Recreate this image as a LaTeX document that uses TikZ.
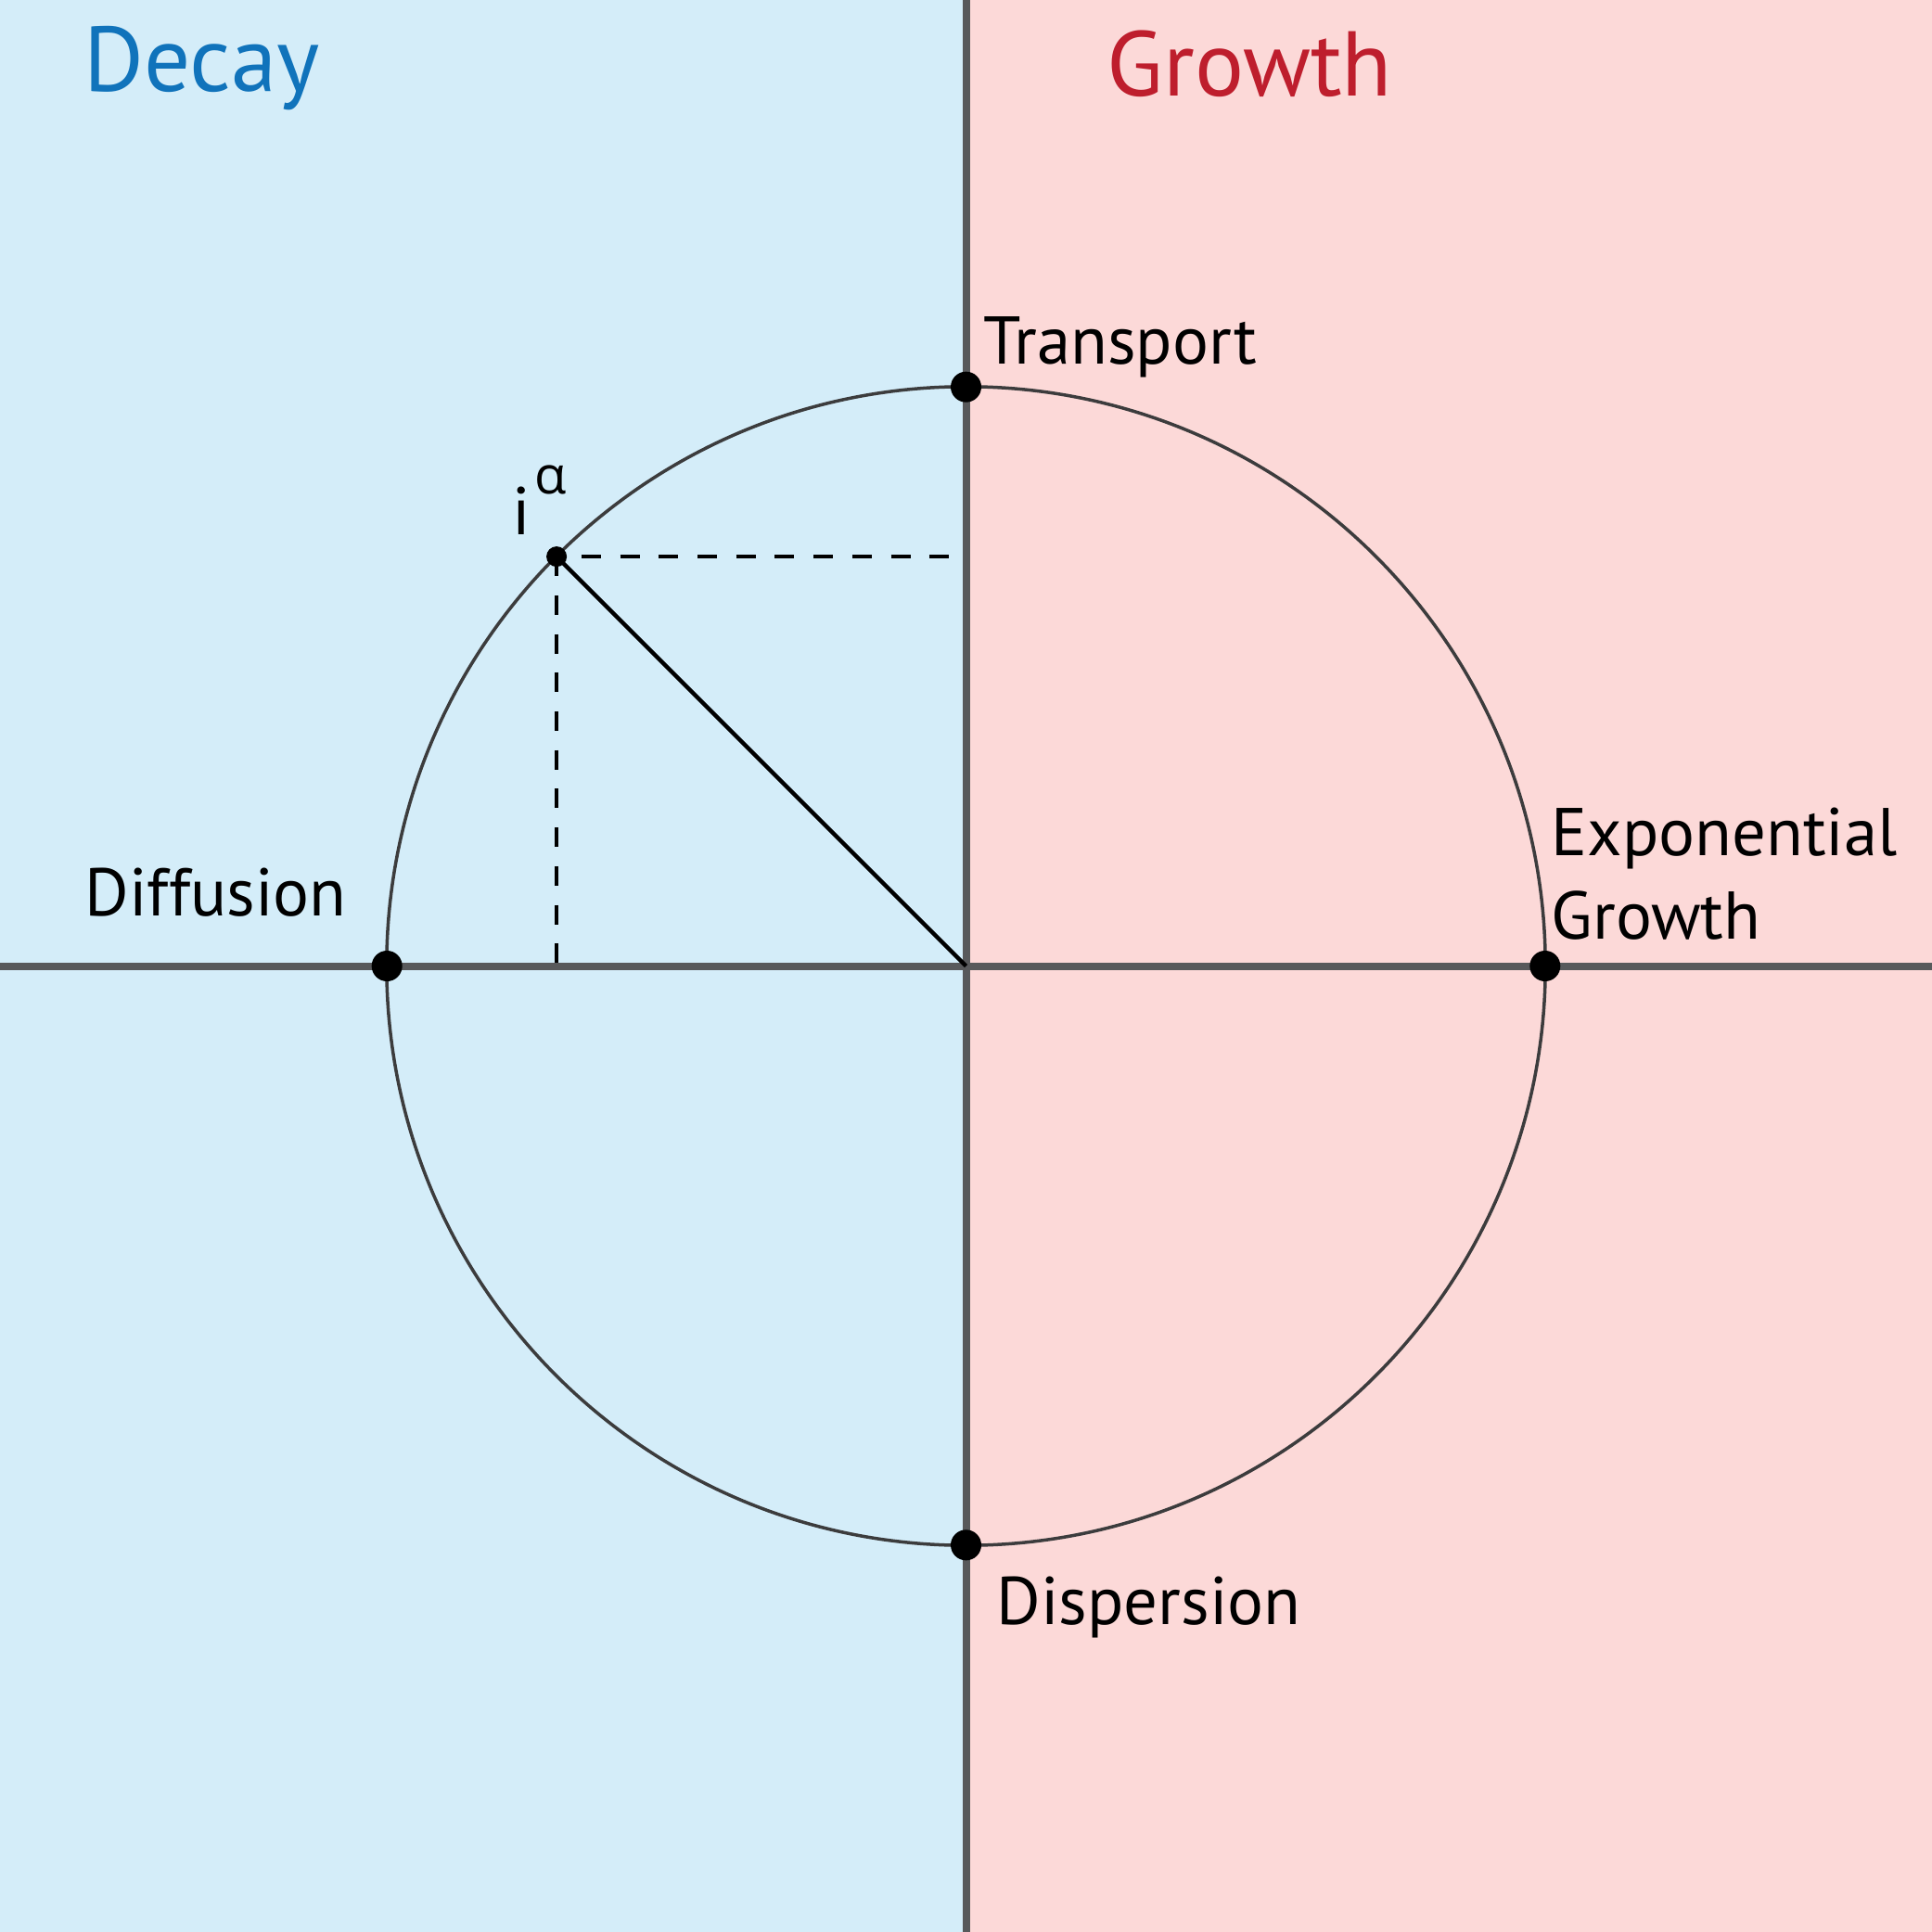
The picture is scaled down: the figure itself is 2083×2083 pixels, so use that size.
\documentclass[tikz,border=0pt]{standalone}
\usepackage{fontspec}
\setmainfont{PT Sans}
\newfontfamily\greekfont{Open Sans}
\definecolor{bgblue}{HTML}{D4EDF9}
\definecolor{bgpink}{HTML}{FCD9D8}
\definecolor{decayblue}{HTML}{1073BB}
\definecolor{growthred}{HTML}{BE1E2D}
\definecolor{axisgray}{HTML}{58595B}
\definecolor{circgray}{HTML}{3C3C3D}
\tikzset{
  axisline/.style={draw=axisgray, line width=0.08cm},
  circline/.style={draw=circgray, line width=0.035cm},
  bigdot/.style={circle, fill=black, inner sep=0pt, minimum size=0.33cm},
  smalldot/.style={circle, fill=black, inner sep=0pt, minimum size=0.22cm},
  lbl/.style={anchor=base west, inner sep=0pt, font=\fontsize{20.7pt}{25pt}\selectfont},
  ttl/.style={anchor=base west, inner sep=0pt, font=\fontsize{28.2pt}{33pt}\selectfont},
  dashline/.style={draw=black, line width=0.04cm, dash pattern=on 0.21cm off 0.207cm},
}
\begin{document}
\begin{tikzpicture}[x=0.01cm, y=-0.01cm]
\useasboundingbox (0,0) rectangle (2083,2083);
\fill[bgblue] (0,0) rectangle (1041.5,2083);
\fill[bgpink] (1041.5,0) rectangle (2083,2083);
\coordinate (O) at (1041.5,1041.5);
\coordinate (Ltop) at (1041.5,0);
\coordinate (Lbot) at (1041.5,2083);
\coordinate (Lleft) at (0,1041.5);
\coordinate (Lright) at (2083,1041.5);
% circle
\draw[circline] (O) circle[radius=6.243cm];
% axes
\draw[axisline] (Ltop) -- (Lbot);
\draw[axisline] (Lleft) -- (Lright);
% point i^alpha
\node[smalldot] (P) at (600.1,600.1) {};
\draw[dashline, dash phase=0.15cm] (P.center) -- (P.center -| O);
\draw[dashline] (P.center) -- (P.center |- O);
\draw[black, line width=0.045cm] (P.center) -- (O);
% dots
\node[bigdot] (T) at (1041.5,417.2) {};
\node[bigdot] (D) at (417.2,1041.5) {};
\node[bigdot] (E) at (1665.8,1041.5) {};
\node[bigdot] (S) at (1041.5,1665.8) {};
% labels
\node[ttl, text=decayblue] (decay) at (90,99) {Decay};
\node[ttl, text=growthred] (growth) at (1193,104) {Growth};
\node[lbl] (transport) at (1060,393) {Transport};
\node[lbl] (expo) at (1672,922) {Exponential};
\node[lbl] (expo2) at (1672,1012) {Growth};
\node[lbl] (diff) at (91,987) {Diffusion};
\node[lbl] (disp) at (1074,1751) {Dispersion};
\node[lbl] (ilbl) at (552,577) {i};
\node[anchor=base west, inner sep=0pt, font=\greekfont\fontsize{16pt}{20pt}\selectfont] (alpha) at (576,533) {α};
\end{tikzpicture}
\end{document}
